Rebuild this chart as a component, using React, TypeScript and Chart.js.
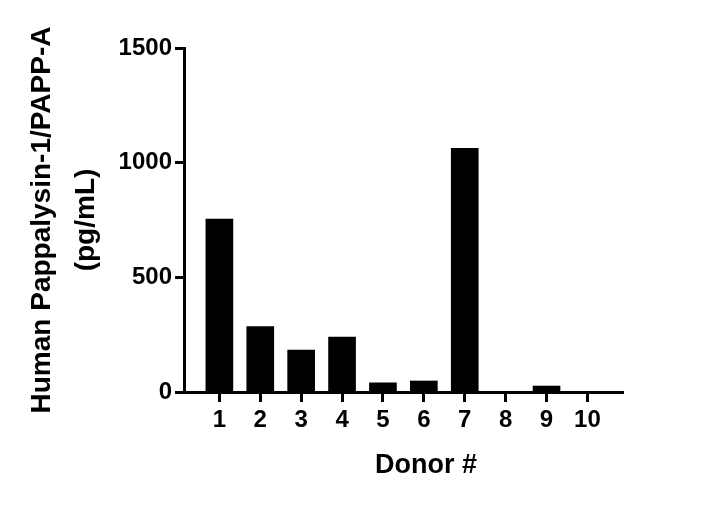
import { useEffect, useRef } from "react";
import { Chart, registerables } from "chart.js";

Chart.register(...registerables);

const donors = ["1", "2", "3", "4", "5", "6", "7", "8", "9", "10"];
const concentrations = [754, 285, 183, 240, 40, 48, 1063, 0, 26, 0];
const yTicks = [0, 500, 1000, 1500];
const yTitle = ["Human Pappalysin-1/PAPP-A", "(pg/mL)"];
const xTitle = "      Donor #";

const FAMILY = '"Liberation Sans", Arial, Helvetica, sans-serif';

export default function App() {
  const ref = useRef<HTMLCanvasElement>(null);

  useEffect(() => {
    const chart = new Chart(ref.current as HTMLCanvasElement, {
      type: "bar",
      data: {
        datasets: [
          {
            data: donors.map((d, i) => ({ x: Number(d), y: concentrations[i] })),
            backgroundColor: "#000000",
            borderWidth: 0,
            barThickness: 27,
          },
        ],
      },
      options: {
        responsive: false,
        animation: false,
        layout: { padding: { top: 48, right: 81, bottom: 0, left: 0 } },
        plugins: { legend: { display: false }, tooltip: { enabled: false } },
        scales: {
          x: {
            type: "linear",
            min: 0.135,
            max: 10.87,
            offset: false,
            afterBuildTicks: (s: any) => {
              s.ticks = donors.map((d) => ({ value: Number(d) }));
            },
            afterFit: (s: any) => {
              s.height = 115;
            },
            grid: {
              display: true,
              offset: false,
              drawOnChartArea: false,
              drawTicks: true,
              tickLength: 10,
              tickWidth: 3,
              tickColor: "#000000",
            },
            border: { display: true, color: "#000000", width: 3 },
            ticks: {
              color: "#000000",
              font: { family: FAMILY, size: 24, weight: "bold" },
              padding: 4,
              autoSkip: false,
              maxRotation: 0,
              callback: (v: any) => donors[Number(v) - 1] ?? "",
            },
            title: {
              display: true,
              text: xTitle,
              color: "#000000",
              font: { family: FAMILY, size: 27, weight: "bold", lineHeight: 1.2 },
              padding: { top: 0, bottom: 25 },
            },
          },
          y: {
            min: 0,
            max: 1500,
            afterBuildTicks: (s: any) => {
              s.ticks = yTicks.map((v) => ({ value: v }));
            },
            afterFit: (s: any) => {
              s.width = 184;
            },
            grid: {
              display: true,
              drawOnChartArea: false,
              drawTicks: true,
              tickLength: 9,
              tickWidth: 3,
              tickColor: "#000000",
            },
            border: { display: true, color: "#000000", width: 3 },
            ticks: {
              color: "#000000",
              font: { family: FAMILY, size: 24, weight: "bold" },
              padding: 3,
              callback: (v: any) => String(v),
            },
            title: {
              display: true,
              text: yTitle,
              color: "#000000",
              font: { family: FAMILY, size: 28, weight: "bold", lineHeight: 1.55 },
              padding: { top: 21, bottom: 0 },
            },
          },
        },
      },
    } as any);
    return () => chart.destroy();
  }, []);

  return (
    <div style={{ position: "fixed", left: 0, top: 0, width: 704, height: 507, background: "#ffffff" }}>
      <canvas ref={ref} width={704} height={507} style={{ display: "block" }} />
    </div>
  );
}
